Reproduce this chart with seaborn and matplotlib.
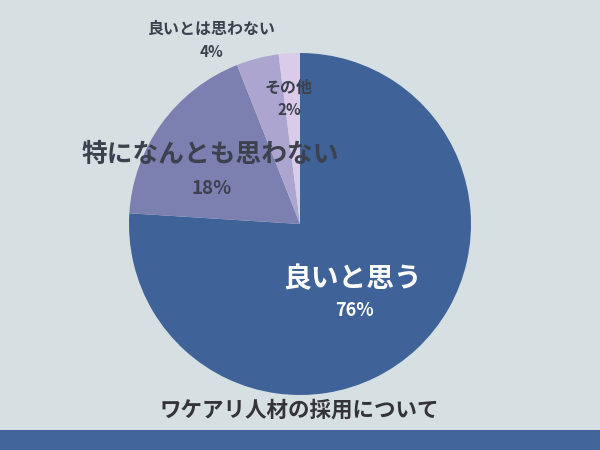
import matplotlib
matplotlib.use("Agg")
from matplotlib import pyplot as plt
import seaborn as sns

# survey answers about hiring "wakeari" staff
labels = ["良いと思う", "特になんとも思わない", "良いとは思わない", "その他"]
shares = [76, 18, 4, 2]
pct_labels = ["76%", "18%", "4%", "2%"]
title = "ワケアリ人材の採用について"

sns.set_style("white")
plt.rcParams['font.family'] = ['Noto Sans CJK JP', 'DejaVu Sans']

bg = "#d6e0e2"
colors = sns.color_palette(["#3f6298", "#7b80b1", "#aca5d0", "#d9cbe9"])

fig = plt.figure(figsize=(6, 4.5), dpi=100, facecolor=bg)
ax = fig.add_axes([0, 0, 1, 1])
ax.set_facecolor(bg)

ax.pie(shares, colors=colors, startangle=90, counterclock=False,
       center=(300, 226), radius=171, wedgeprops=dict(linewidth=0))

ax.set_xlim(0, 600)
ax.set_ylim(0, 450)
ax.set_aspect("equal")
ax.axis("off")

dark = "#3c414e"
# label placement (x, y in pixels from top-left) and sizes
ax.text(353, 450 - 279, labels[0], color="white", fontsize=20, fontweight="bold", ha="center", va="center")
ax.text(355, 450 - 310, pct_labels[0], color="white", fontsize=13, fontweight="bold", ha="center", va="center")
ax.text(210, 450 - 154, labels[1], color=dark, fontsize=18.5, fontweight="bold", ha="center", va="center")
ax.text(212, 450 - 189, pct_labels[1], color=dark, fontsize=13.5, fontweight="bold", ha="center", va="center")
ax.text(212, 450 - 29, labels[2], color=dark, fontsize=11.5, fontweight="bold", ha="center", va="center")
ax.text(212, 450 - 52, pct_labels[2], color=dark, fontsize=11, fontweight="bold", ha="center", va="center")
ax.text(289, 450 - 88, labels[3], color=dark, fontsize=11.5, fontweight="bold", ha="center", va="center")
ax.text(289, 450 - 110, pct_labels[3], color=dark, fontsize=11, fontweight="bold", ha="center", va="center")

ax.text(299, 450 - 410, title, color="#333338", fontsize=15.5, fontweight="bold", ha="center", va="center")

# bottom band
ax.add_patch(plt.Rectangle((0, 0), 600, 20, color="#41649a", linewidth=0))

fig.savefig("out.png", dpi=100, facecolor=bg)
